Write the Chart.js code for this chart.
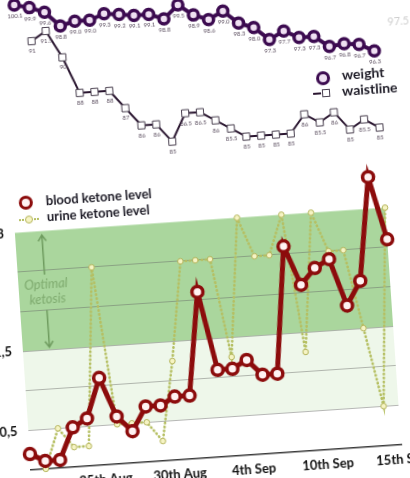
<!DOCTYPE html>
<html>
<head>
<meta charset="utf-8">
<script src="https://cdn.jsdelivr.net/npm/chart.js@4.4.0/dist/chart.umd.min.js"></script>
<style>
html, body { margin: 0; padding: 0; width: 410px; height: 478px; overflow: hidden; background: #fff; font-family: Lato, sans-serif; }
/* the reference is a slightly tilted photo, so the whole sheet is turned a little */
#sheet { position: absolute; left: 0; top: 0; width: 0; height: 0; transform: rotate(-3.9deg); transform-origin: 0 0; }
#sheet canvas { position: absolute; }
.lg { position: absolute; font-weight: bold; color: #1d1b26; white-space: nowrap; }
.mk { position: absolute; box-sizing: border-box; }
</style>
</head>
<body>
<div id="sheet">
  <canvas id="bodyChart" width="480" height="200" style="left:-60px;top:-20px;"></canvas>
  <canvas id="ketoneChart" width="480" height="340" style="left:-60px;top:175px;"></canvas>

  <span class="lg" style="left:385px;top:41px;font-size:11px;font-weight:normal;color:#cfcfcf;">97.5</span>

  <div class="mk" style="left:309.5px;top:92.5px;width:14px;height:14px;border:3.5px solid #3c0b50;border-radius:50%;background:#efe0f2;"></div>
  <span class="lg" style="left:336px;top:90px;font-size:14px;line-height:16px;">weight</span>
  <div class="mk" style="left:306px;top:114px;width:8px;height:2px;background:#2a1630;"></div>
  <div class="mk" style="left:314.5px;top:111px;width:8px;height:8px;border:1px solid #4a4050;background:#fff;"></div>
  <span class="lg" style="left:335px;top:106px;font-size:14px;line-height:16px;">waistline</span>

  <div class="mk" style="left:5px;top:197px;width:14px;height:14px;border:3.5px solid #8c0c0c;border-radius:50%;background:#fff2f2;"></div>
  <span class="lg" style="left:32px;top:195.5px;font-size:13px;line-height:15px;">blood ketone level</span>
  <div class="mk" style="left:4px;top:219.5px;width:20px;height:0;border-top:2px dotted #b5bf62;"></div>
  <div class="mk" style="left:10px;top:216.5px;width:8px;height:8px;border:1px solid #b4b45c;border-radius:50%;background:#f6f4c4;"></div>
  <span class="lg" style="left:32px;top:211.5px;font-size:13px;line-height:15px;">urine ketone level</span>
</div>

<script>
// days of measurement (one point per day, 8 Sep missing)
const dates = ['20th Aug', '21st Aug', '22nd Aug', '23rd Aug', '24th Aug', '25th Aug', '26th Aug', '27th Aug',
  '28th Aug', '29th Aug', '30th Aug', '31st Aug', '1st Sep', '2nd Sep', '3rd Sep', '4th Sep', '5th Sep',
  '6th Sep', '7th Sep', '9th Sep', '10th Sep', '11th Sep', '12th Sep', '13th Sep', '14th Sep', '15th Sep'];

const weight = [null, 100.1, 99.9, 99.6, 98.8, 99.0, 99.0, 99.3, 99.2, 99.1, 99.1, 98.8, 99.5, 98.9,
  98.6, 99.0, 98.3, 98.0, 97.3, 97.7, 97.3, 97.3, 96.7, 96.8, 96.7, 96.3];
const waistline = [null, null, 91, 91.5, 90, 88, 88, 88, 87, 86, 86, 85, 86.5, 86.5, 86, 85.5,
  85, 85, 85, 85, 86, 85.5, 86, 85, 85.5, 85];

const bloodKetone = [0.2, 0.1, 0.1, 0.5, 0.6, 1.1, 0.6, 0.4, 0.7, 0.7, 0.8, 0.8, 2.1, 1.1, 1.1, 1.2,
  1.0, 1.0, 2.6, 2.1, 2.3, 2.4, 1.8, 2.1, 3.4, 2.6];
const urineKetone = [null, 0, 0.5, 0.25, 0.25, 2.5, 0.5, 0.5, 0.5, 0.25, 1.25, 2.5, 2.5, 2.5, 1.25, 3,
  2.5, 2.5, 3, 1.25, 3, 2.5, 2.5, 1.5, 0.5, 3];

const yTickLabels = { '0.5': '0,5', '1.5': '1,5', '3': '3' };
const gridValues = [0.5, 1, 1.5, 2, 2.5];
const optimalBand = [1.5, 3];
const lowBand = [0.5, 1.5];

Chart.defaults.font.family = 'Lato';

// small value labels under each point of the top chart
const pointLabels = {
  id: 'pointLabels',
  afterDatasetsDraw(chart) {
    const ctx = chart.ctx;
    ctx.save();
    ctx.font = '6px Lato';
    ctx.textAlign = 'center';
    ctx.textBaseline = 'middle';
    ctx.fillStyle = '#5c4f60';
    chart.data.datasets.forEach((ds, i) => {
      chart.getDatasetMeta(i).data.forEach((pt, j) => {
        const v = ds.data[j];
        if (v == null) return;
        const txt = ds.decimals ? v.toFixed(ds.decimals) : String(v);
        ctx.fillText(txt, pt.x, pt.y + ds.labelDy);
      });
    });
    ctx.restore();
  }
};

// green "optimal ketosis" band with its note
const ketosisBand = {
  id: 'ketosisBand',
  beforeDraw(chart) {
    const { ctx, chartArea: a, scales: { x, y } } = chart;
    ctx.save();
    ctx.fillStyle = '#eef7ea';
    ctx.fillRect(a.left, y.getPixelForValue(lowBand[1]), a.right - a.left,
      y.getPixelForValue(lowBand[0]) - y.getPixelForValue(lowBand[1]));
    ctx.fillStyle = '#aad69d';
    ctx.fillRect(a.left, y.getPixelForValue(optimalBand[1]), a.right - a.left,
      y.getPixelForValue(optimalBand[0]) - y.getPixelForValue(optimalBand[1]));
    ctx.restore();
  },
  beforeDatasetsDraw(chart) {
    const { ctx, scales: { x, y } } = chart;
    const ax = x.getPixelForValue(1.8);
    ctx.save();
    ctx.strokeStyle = '#6f9c5f';
    ctx.fillStyle = '#6f9c5f';
    ctx.lineWidth = 1.5;
    const arrow = (from, to) => {
      const y1 = y.getPixelForValue(from), y2 = y.getPixelForValue(to);
      const d = y2 > y1 ? 1 : -1;
      ctx.beginPath();
      ctx.moveTo(ax, y1);
      ctx.lineTo(ax, y2);
      ctx.moveTo(ax - 4, y2 - d * 6);
      ctx.lineTo(ax, y2);
      ctx.lineTo(ax + 4, y2 - d * 6);
      ctx.stroke();
    };
    arrow(2.45, 2.95);
    arrow(2.0, 1.53);
    ctx.font = 'italic 13px Lato';
    ctx.textAlign = 'center';
    ctx.textBaseline = 'middle';
    ctx.fillStyle = '#7eaa6e';
    ctx.fillText('Optimal', x.getPixelForValue(1.85), y.getPixelForValue(2.32));
    ctx.fillText('ketosis', x.getPixelForValue(1.9), y.getPixelForValue(2.13));
    ctx.restore();
  }
};

new Chart(document.getElementById('bodyChart'), {
  type: 'line',
  data: {
    labels: dates,
    datasets: [{
      label: 'weight',
      data: weight,
      yAxisID: 'y',
      borderColor: '#3c0b50',
      borderWidth: 4,
      pointRadius: 5,
      pointBorderWidth: 3.5,
      pointBackgroundColor: '#efe0f2',
      pointBorderColor: '#3c0b50',
      clip: false,
      decimals: 1,
      labelDy: 11
    }, {
      label: 'waistline',
      data: waistline,
      yAxisID: 'y1',
      borderColor: '#2a1630',
      borderWidth: 2,
      pointStyle: 'rect',
      pointRadius: 5,
      pointBorderWidth: 1,
      pointBackgroundColor: '#ffffff',
      pointBorderColor: '#4a4050',
      clip: false,
      decimals: 0,
      labelDy: 10
    }]
  },
  options: {
    responsive: false,
    animation: false,
    events: [],
    layout: { padding: { left: 59, right: 50, top: 20, bottom: 20 } },
    plugins: { legend: { display: false }, tooltip: { enabled: false } },
    scales: {
      x: { display: false },
      y: { display: false, min: 91.77, max: 100.42 },
      y1: { display: false, min: 84.62, max: 93.36 }
    }
  },
  plugins: [pointLabels]
});

new Chart(document.getElementById('ketoneChart'), {
  type: 'line',
  data: {
    labels: dates,
    datasets: [{
      label: 'blood ketone level',
      data: bloodKetone,
      borderColor: '#8c0c0c',
      borderWidth: 5,
      pointRadius: 5.5,
      pointBorderWidth: 3.5,
      pointBackgroundColor: '#fff2f2',
      pointBorderColor: '#8c0c0c',
      clip: false
    }, {
      label: 'urine ketone level',
      data: urineKetone,
      borderColor: '#b5bf62',
      borderWidth: 2.6,
      borderDash: [0.5, 3.5],
      borderCapStyle: 'round',
      pointRadius: 2.8,
      pointBorderWidth: 1,
      pointBackgroundColor: '#f6f4c4',
      pointBorderColor: '#b4b45c',
      clip: false
    }]
  },
  options: {
    responsive: false,
    animation: false,
    events: [],
    layout: { padding: { left: 19, right: 50, top: 14.5, bottom: 0 } },
    plugins: { legend: { display: false }, tooltip: { enabled: false } },
    scales: {
      x: {
        grid: { display: false, drawTicks: false },
        border: { display: true, color: '#3a3a3a', width: 1.5 },
        ticks: {
          autoSkip: false, maxRotation: 0, minRotation: 0, padding: 7, color: '#111',
          font: { size: 13, weight: 'bold' },
          callback: (v, i) => (i % 5 === 0 ? dates[i] : '')
        },
        afterFit: (s) => { s.height = 44.1; }
      },
      y: {
        min: 0,
        max: 3.5,
        border: { display: false },
        grid: {
          drawTicks: false,
          color: (c) => gridValues.includes(Math.round(c.tick.value * 10) / 10) ? 'rgba(100,100,100,0.45)' : 'rgba(0,0,0,0)'
        },
        ticks: {
          stepSize: 0.5, padding: 11, color: '#111',
          font: { size: 13, weight: 'bold' },
          callback: (v) => yTickLabels[String(Math.round(v * 10) / 10)] || ''
        },
        afterFit: (s) => { s.width = 40; }
      }
    }
  },
  plugins: [ketosisBand]
});
</script>
</body>
</html>
